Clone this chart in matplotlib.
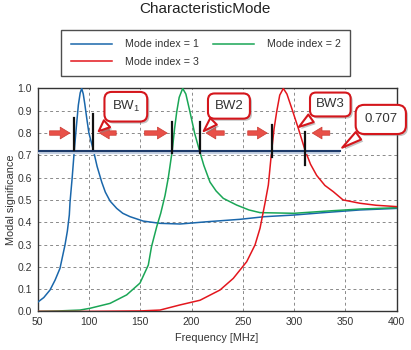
import matplotlib
matplotlib.use('Agg')
import matplotlib.pyplot as plt
import matplotlib.patheffects as pe

plt.rcParams['font.family'] = ['Liberation Sans', 'DejaVu Sans']

# values
freq1 = [50, 56, 62.1, 67, 71.8, 76.7, 79, 80.9, 81.6, 83.7, 85.8, 87.8, 89.7, 91.5, 93,
         94.5, 96, 97.9, 100, 104.3, 108, 112.5, 116, 120.6, 127.1, 133, 140, 153,
         169.3, 188.8, 214.8, 247.3, 271.6, 299.2, 331.8, 364.2, 400]
ms1 = [0.041, 0.062, 0.096, 0.14, 0.193, 0.298, 0.36, 0.432, 0.49, 0.6, 0.724, 0.83, 0.925,
       0.98, 1.0, 0.975, 0.93, 0.866, 0.8, 0.724, 0.65, 0.58, 0.535, 0.495, 0.462, 0.44,
       0.425, 0.405, 0.395, 0.392, 0.402, 0.413, 0.425, 0.432, 0.444, 0.455, 0.462]

freq2 = [50, 70, 91.3, 101.1, 120.6, 136.8, 149.8, 157.9, 161, 166.1, 170, 174.2, 177.4,
         181.3, 183.5, 185.6, 188, 191.4, 194.5, 198.5, 203, 207.6, 212, 218, 224, 231,
         244, 256, 266.8, 300, 332, 364, 400]
ms2 = [0.0, 0.002, 0.006, 0.014, 0.036, 0.074, 0.127, 0.208, 0.29, 0.38, 0.44, 0.52, 0.6,
       0.724, 0.82, 0.895, 0.96, 1.0, 0.975, 0.895, 0.8, 0.724, 0.655, 0.58, 0.54, 0.507,
       0.477, 0.455, 0.443, 0.44, 0.45, 0.459, 0.465]

freq3 = [50, 100, 150, 169.3, 188.8, 208.3, 227.8, 240.7, 253.8, 261.9, 266.8, 271.6,
         274.9, 278.2, 280.5, 283, 286, 289.5, 293, 297.7, 304.1, 310.6, 316, 322, 330,
         338.2, 347.7, 364.2, 380, 400]
ms3 = [0.0, 0.0, 0.002, 0.006, 0.029, 0.05, 0.096, 0.148, 0.223, 0.298, 0.373, 0.485,
       0.567, 0.724, 0.82, 0.895, 0.97, 1.0, 0.975, 0.911, 0.821, 0.724, 0.66, 0.61, 0.565,
       0.537, 0.5, 0.485, 0.476, 0.47]

labels = ['Mode index = 1', 'Mode index = 2', 'Mode index = 3']
colors = ['#1a67ab', '#1aa656', '#e3161d']

level = 0.72
# bandwidth edges (left, right) for each mode
bw_edges = [(85.8, 104.3), (181.3, 208.3), (278.2, 310.6)]

fig = plt.figure(figsize=(4.11, 3.5), dpi=100)
ax = fig.add_axes([0.0915, 0.1103, 0.8737, 0.637])

lines = []
for f, m, c, lab in zip([freq1, freq2, freq3], [ms1, ms2, ms3], colors, labels):
    l, = ax.plot(f, m, color=c, lw=1.1, label=lab, zorder=3)
    lines.append(l)

ax.set_xlim(50, 400)
ax.set_ylim(0, 1)
ax.set_xticks(range(50, 401, 50))
ax.set_yticks([i / 10 for i in range(11)])
ax.set_yticklabels(['%.1f' % (i / 10) for i in range(11)])
ax.tick_params(length=0, labelsize=7.5, colors='#333333', pad=4)
ax.grid(True, color='#8a8a8a', lw=0.7, linestyle=(0, (3, 3)))
for s in ax.spines.values():
    s.set_color('#333333')
    s.set_linewidth(1.0)

# 0.707 reference line with its light shadow
ax.plot([50, 345], [level - 0.006, level - 0.006], color='#c3cfe2', lw=3, zorder=4,
        solid_capstyle='butt')
ax.plot([50, 345], [level, level], color='#1d3a6a', lw=1.5, zorder=5)

# black markers at the half power points
marker_y = [[(0.724, 0.869), (0.728, 0.884)],
            [(0.709, 0.848), (0.709, 0.851)],
            [(0.694, 0.836), (0.657, 0.803)]]
for (xl, xr), ys in zip(bw_edges, marker_y):
    for xx, (y0, y1) in zip((xl, xr), ys):
        ax.plot([xx, xx], [y0, y1], color='#111111', lw=1.6, zorder=6)

# red arrows pointing at the markers
arrow_pairs = [((58.9, 84.2), (129.3, 107.6)),
               ((151.5, 179.0), (234.6, 211.5)),
               ((252.1, 276.5), (337.5, 315.0))]
for left, right in arrow_pairs:
    for tail, tip in (left, right):
        ax.annotate('', xy=(tip, 0.8), xytext=(tail, 0.8),
                    arrowprops=dict(arrowstyle='simple,head_width=0.85,head_length=0.7,tail_width=0.32',
                                    fc='#e85048', ec='#cc3a32', lw=0.5, mutation_scale=10),
                    zorder=7)

# callouts
callouts = [('BW$_\\mathregular{1}$', (136.0, 0.918), (107.6, 0.80), 0.55),
            ('BW2', (236.5, 0.921), (210.0, 0.80), 0.5),
            ('BW3', (335.3, 0.928), (302.5, 0.82), 0.45),
            ('0.707', (384.5, 0.861), (344.7, 0.727), 0.65)]
shadow = [pe.SimplePatchShadow(offset=(1.5, -1.5), shadow_rgbFace='#888888', alpha=0.5), pe.Normal()]
for txt, pos, tip, pad in callouts:
    a = ax.annotate(txt, xy=tip, xytext=pos, ha='center', va='center', fontsize=9.5,
                    color='#333333', annotation_clip=False, zorder=8,
                    bbox=dict(boxstyle='round,pad=%s' % pad, fc='white', ec='#d4161c', lw=1.5),
                    arrowprops=dict(arrowstyle='wedge,tail_width=0.7,shrink_factor=0.5',
                                    fc='white', ec='#d4161c', lw=1.5))
    a.get_bbox_patch().set_path_effects(shadow)
    a.arrow_patch.set_path_effects(shadow)

fig.text(0.4997, 0.973, 'CharacteristicMode', ha='center', va='center', fontsize=11,
         color='#222222')
fig.text(0.027, 0.43, 'Modal significance', rotation=90, ha='center', va='center',
         fontsize=7.8, color='#333333')
fig.text(0.528, 0.033, 'Frequency [MHz]', ha='center', va='center', fontsize=7.8,
         color='#333333')

# column-wise fill: mode 1 and 3 in the first column, mode 2 in the second
leg = fig.legend(handles=[lines[0], lines[2], lines[1]], loc='center',
                 bbox_to_anchor=(0.5009, 0.8486), ncol=2,
                 fontsize=7.7, frameon=True, fancybox=False, handlelength=3.8,
                 handletextpad=1.2, columnspacing=1.4, borderpad=0.9, labelspacing=0.7)
leg.get_frame().set_edgecolor('#222222')
leg.get_frame().set_linewidth(1.0)
for t in leg.get_texts():
    t.set_color('#333333')

fig.savefig('out.png', dpi=100)
